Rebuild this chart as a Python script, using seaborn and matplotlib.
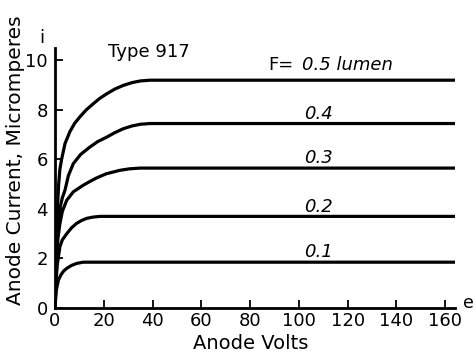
import matplotlib
matplotlib.use("Agg")
import matplotlib.pyplot as plt
import seaborn as sns
import pandas as pd

# Phototube anode characteristics, Type 917
flux_labels = ["0.5", "0.4", "0.3", "0.2", "0.1"]

volts_05 = [0, 0.5, 1, 1.5, 2, 2.7, 4.1, 6.1, 8, 10.2, 12.8, 15.7, 18.4, 21.2, 24.5, 28, 31.5, 35, 39, 43, 164]
amps_05 = [0, 2.5, 4.0, 5.0, 5.6, 6.0, 6.64, 7.12, 7.45, 7.72, 8.0, 8.25, 8.47, 8.65, 8.84, 8.99, 9.1, 9.17, 9.2, 9.2, 9.2]

volts_04 = [0, 0.6, 1.2, 2, 3, 4.1, 5.5, 7.5, 10.5, 14.3, 17.5, 21.2, 24.5, 28, 31.5, 35, 39, 43, 164]
amps_04 = [0, 2.2, 3.4, 4.0, 4.45, 4.76, 5.35, 5.83, 6.2, 6.5, 6.72, 6.9, 7.08, 7.24, 7.35, 7.42, 7.45, 7.45, 7.45]

volts_03 = [0, 0.6, 1.2, 2, 3, 4.8, 7.5, 11.6, 14.5, 17, 21, 26.6, 30.5, 34.8, 43, 164]
amps_03 = [0, 1.8, 2.8, 3.4, 3.9, 4.35, 4.69, 4.96, 5.12, 5.25, 5.42, 5.56, 5.62, 5.65, 5.65, 5.65]

volts_02 = [0, 0.5, 1, 2, 3, 4.8, 6.8, 8.9, 11, 13, 15.5, 18.4, 22, 164]
amps_02 = [0, 1.2, 1.8, 2.47, 2.75, 3.0, 3.24, 3.42, 3.54, 3.62, 3.67, 3.7, 3.7, 3.7]

volts_01 = [0, 0.5, 1.4, 2.5, 3.6, 4.8, 6.8, 8.9, 11.5, 14, 164]
amps_01 = [0, 0.7, 1.13, 1.35, 1.5, 1.6, 1.72, 1.8, 1.85, 1.85, 1.85]

saturation = [9.2, 7.45, 5.65, 3.7, 1.85]

x_ticks = [0, 20, 40, 60, 80, 100, 120, 140, 160]
y_ticks = [0, 2, 4, 6, 8, 10]

curves = [(volts_05, amps_05), (volts_04, amps_04), (volts_03, amps_03),
          (volts_02, amps_02), (volts_01, amps_01)]
frames = []
for lab, (v, a) in zip(flux_labels, curves):
    frames.append(pd.DataFrame({"volts": v, "amps": a, "flux": lab}))
df = pd.concat(frames, ignore_index=True)

sns.set_style("white")
plt.rcParams["font.family"] = ["DejaVu Sans"]
plt.rcParams.update({"text.color": "black", "axes.labelcolor": "black",
                     "xtick.color": "black", "ytick.color": "black"})

fig = plt.figure(figsize=(4.76, 3.54), dpi=100)
ax = fig.add_axes([55 / 476, 1 - 308 / 354, 400 / 476, 260 / 354])

sns.lineplot(data=df, x="volts", y="amps", hue="flux", palette=["black"] * 5,
             sort=False, estimator=None, legend=False, linewidth=2.3, ax=ax,
             solid_capstyle="butt")

ax.set_xlim(0, 164)
ax.set_ylim(0, 10.5)
ax.set_xticks(x_ticks)
ax.set_yticks(y_ticks)
ax.tick_params(direction="in", length=6, width=1.3, labelsize=13, color="black",
               bottom=True, left=True)
ax.tick_params(axis="x", pad=3)
ax.tick_params(axis="y", pad=5)

for side in ["top", "right"]:
    ax.spines[side].set_visible(False)
for side in ["left", "bottom"]:
    ax.spines[side].set_linewidth(2.0)
    ax.spines[side].set_color("black")

ax.set_xlabel("Anode Volts", fontsize=14)
ax.set_ylabel("Anode Current, Micromperes", fontsize=14.5)
ax.xaxis.set_label_coords(0.49, -0.1)
ax.xaxis.label.set_va("top")
ax.yaxis.set_label_coords(-0.075, 0.57)

ax.text(21.7, 10.12, "Type 917", fontsize=13, va="baseline", ha="left")

# curve labels
ax.annotate("F=", xy=(87.3, saturation[0]), xytext=(0, 7), textcoords="offset points",
            fontsize=13, ha="left", va="baseline")
ax.annotate("0.5 lumen", xy=(101.2, saturation[0]), xytext=(0, 7), textcoords="offset points",
            fontsize=13, ha="left", va="baseline", style="italic")
for lab, lvl in zip(flux_labels[1:], saturation[1:]):
    ax.annotate(lab, xy=(108, lvl), xytext=(0, 3.5), textcoords="offset points",
                fontsize=13, ha="center", va="baseline", style="italic")

# axis variable symbols
ax.annotate("e", xy=(167.3, 0), fontsize=12.5, ha="left", va="baseline", annotation_clip=False)
ax.annotate("i", xy=(-5.3, 10.69), fontsize=13, ha="center", va="baseline", annotation_clip=False)

fig.savefig("out.png", dpi=100)
